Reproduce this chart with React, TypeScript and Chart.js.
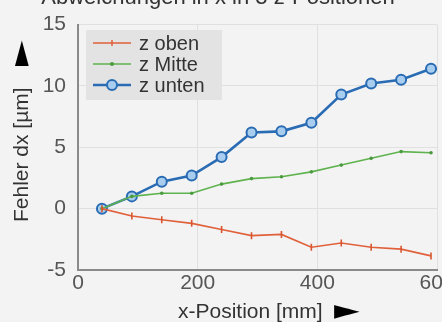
import React, { useEffect, useRef } from "react";
import { Chart, registerables } from "chart.js";

Chart.register(...registerables);

const titleText = "Abweichungen in x in 3 z-Positionen";
const xAxisTitle = "x-Position [mm]";
const yAxisTitle = "Fehler dx [\u00B5m]";
const arrowGlyph = "\u25BA";
const xPositions = [40, 90, 140, 190, 240, 290, 340, 390, 440, 490, 540, 590];
const zOben = [0, -0.6, -0.9, -1.2, -1.7, -2.2, -2.1, -3.15, -2.8, -3.15, -3.3, -3.85];
const zMitte = [0, 1.0, 1.25, 1.25, 2.0, 2.45, 2.6, 3.0, 3.55, 4.1, 4.65, 4.55];
const zUnten = [0, 1.0, 2.2, 2.7, 4.2, 6.2, 6.3, 7.0, 9.3, 10.2, 10.5, 11.4];
const seriesLabels = ["z oben", "z Mitte", "z unten"];
const xTicks = [0, 200, 400, 600];
const yTicks = [-5, 0, 5, 10, 15];

const FONT = "'Liberation Sans', Arial, sans-serif";

export default function App() {
  const ref = useRef<HTMLCanvasElement | null>(null);
  useEffect(() => {
    document.body.style.margin = "0";
    document.body.style.background = "#f3f3f3";
    const canvas = ref.current!;
    const mk = (ys: number[]) => xPositions.map((x, i) => ({ x, y: ys[i] }));

    const drawArrow = (ctx: CanvasRenderingContext2D) => {
      ctx.save();
      ctx.fillStyle = "#000";
      ctx.textAlign = "left";
      ctx.textBaseline = "middle";
      ctx.scale(1.15, 0.95);
      ctx.font = `29px 'DejaVu Sans', sans-serif`;
      ctx.fillText(arrowGlyph, 0, 0);
      ctx.restore();
    };

    const overlayPlugin = {
      id: "overlayPlugin",
      beforeDraw(chart: any) {
        const ctx = chart.ctx;
        ctx.save();
        ctx.fillStyle = "#f3f3f3";
        ctx.fillRect(0, 0, chart.width, chart.height);
        ctx.restore();
      },
      afterDraw(chart: any) {
        const ctx = chart.ctx;
        const ca = chart.chartArea;
        ctx.save();
        // title (clipped at top as in the reference)
        ctx.font = `22px ${FONT}`;
        ctx.fillStyle = "#333";
        ctx.textAlign = "center";
        ctx.textBaseline = "alphabetic";
        ctx.fillText(titleText, 218, 4);

        // x axis title
        ctx.font = `21px ${FONT}`;
        ctx.textAlign = "left";
        ctx.textBaseline = "middle";
        ctx.fillStyle = "#333";
        ctx.fillText(xAxisTitle, 178, 312);
        ctx.save();
        ctx.translate(334, 312);
        drawArrow(ctx);
        ctx.restore();

        // y axis title (rotated)
        ctx.save();
        ctx.translate(22, 222);
        ctx.rotate(-Math.PI / 2);
        ctx.font = `21px ${FONT}`;
        ctx.fillStyle = "#333";
        ctx.textAlign = "left";
        ctx.textBaseline = "middle";
        ctx.fillText(yAxisTitle, 0, 0);
        ctx.translate(156, 0);
        drawArrow(ctx);
        ctx.restore();

        // legend
        const lx = ca.left + 8, ly = 30, lw = 136, lh = 70;
        ctx.fillStyle = "rgba(226,226,226,0.92)";
        ctx.fillRect(lx, ly, lw, lh);
        chart.data.datasets.forEach((ds: any, i: number) => {
          const y = 43 + i * 21;
          ctx.strokeStyle = ds.borderColor;
          ctx.lineWidth = ds.borderWidth;
          ctx.beginPath();
          ctx.moveTo(93, y);
          ctx.lineTo(131, y);
          ctx.stroke();
          const cx = 112;
          if (ds.pointStyle === "circle" && ds.pointRadius > 3) {
            ctx.fillStyle = ds.pointBackgroundColor;
            ctx.lineWidth = ds.pointBorderWidth;
            ctx.strokeStyle = ds.pointBorderColor;
            ctx.beginPath();
            ctx.arc(cx, y, ds.pointRadius, 0, Math.PI * 2);
            ctx.fill();
            ctx.stroke();
          } else if (ds.pointStyle === "line") {
            ctx.lineWidth = 1.5;
            ctx.strokeStyle = ds.borderColor;
            ctx.beginPath();
            ctx.moveTo(cx, y - 3);
            ctx.lineTo(cx, y + 3);
            ctx.stroke();
          } else {
            ctx.fillStyle = ds.pointBackgroundColor;
            ctx.beginPath();
            ctx.arc(cx, y, 2, 0, Math.PI * 2);
            ctx.fill();
          }
          ctx.fillStyle = "#333";
          ctx.font = `20px ${FONT}`;
          ctx.textAlign = "left";
          ctx.textBaseline = "middle";
          ctx.fillText(ds.label, 139, y + 1);
        });
        ctx.restore();
      },
    };

    const chart = new Chart(canvas, {
      type: "line",
      data: {
        datasets: [
          {
            label: seriesLabels[0],
            data: mk(zOben),
            borderColor: "#e0603a",
            backgroundColor: "#e0603a",
            borderWidth: 1.6,
            pointStyle: "line",
            rotation: 90,
            pointRadius: 3.5,
            pointBorderWidth: 1.6,
            pointBorderColor: "#d9552f",
            pointBackgroundColor: "#e0603a",
          },
          {
            label: seriesLabels[1],
            data: mk(zMitte),
            borderColor: "#5fb34e",
            backgroundColor: "#5fb34e",
            borderWidth: 1.6,
            pointStyle: "circle",
            pointRadius: 1.8,
            pointBorderWidth: 0,
            pointBorderColor: "#4a9a40",
            pointBackgroundColor: "#4a9a40",
          },
          {
            label: seriesLabels[2],
            data: mk(zUnten),
            borderColor: "#2a6cb4",
            backgroundColor: "#2a6cb4",
            borderWidth: 2.6,
            pointStyle: "circle",
            pointRadius: 5,
            pointBorderWidth: 2,
            pointBorderColor: "#2a6cb4",
            pointBackgroundColor: "#a9cdee",
          },
        ],
      } as any,
      options: {
        animation: false,
        responsive: false,
        maintainAspectRatio: false,
        layout: { padding: { top: 23, right: 23, left: 0, bottom: 0 } },
        plugins: {
          legend: { display: false },
          title: { display: false },
          tooltip: { enabled: false },
        },
        scales: {
          x: {
            type: "linear",
            min: 0,
            max: 600,
            afterBuildTicks: (s: any) => {
              s.ticks = xTicks.map((v) => ({ value: v }));
            },
            afterFit: (s: any) => {
              s.height = 52;
            },
            grid: { color: "#e0e0e0", lineWidth: 1, drawTicks: false },
            border: { color: "#8a8a8a", width: 2 },
            ticks: {
              color: "#555",
              font: { family: FONT, size: 21 },
              padding: 1,
              maxRotation: 0,
              autoSkip: false,
            },
          },
          y: {
            type: "linear",
            min: -5,
            max: 15,
            afterBuildTicks: (s: any) => {
              s.ticks = yTicks.map((v) => ({ value: v }));
            },
            afterFit: (s: any) => {
              s.width = 78;
            },
            grid: { color: "#e0e0e0", lineWidth: 1, drawTicks: false },
            border: { color: "#8a8a8a", width: 2 },
            ticks: {
              color: "#555",
              font: { family: FONT, size: 21 },
              padding: 12,
              autoSkip: false,
            },
          },
        },
      } as any,
      plugins: [overlayPlugin],
    });
    return () => chart.destroy();
  }, []);
  return (
    <div style={{ width: 442, height: 322, overflow: "hidden", position: "relative" }}>
      <canvas ref={ref} width={460} height={322} style={{ display: "block", width: 460, height: 322 }} />
    </div>
  );
}
